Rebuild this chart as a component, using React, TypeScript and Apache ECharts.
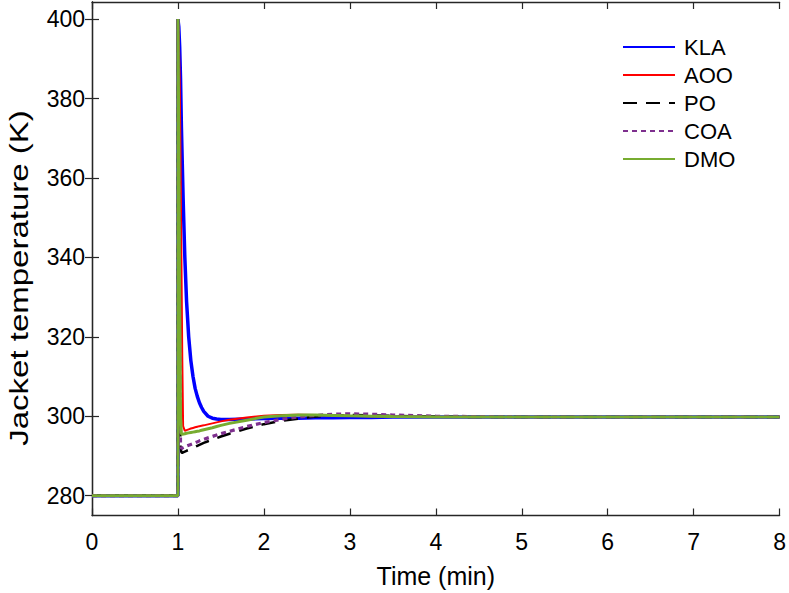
import React, { useEffect, useRef } from "react";
import * as echarts from "echarts";

// Sample times (min); the step input arrives at t = 1
const time = [
  0, 1.0, 1.0, 1.01, 1.02, 1.03, 1.04, 1.05, 1.06, 1.08, 1.1, 1.125, 1.15, 1.175, 1.2, 1.225, 1.25,
  1.275, 1.3, 1.35, 1.4, 1.45, 1.5, 1.6, 1.8, 2.0, 2.2, 2.4, 2.6, 2.8, 3.0, 3.25, 3.5, 4, 4.5, 5, 6, 7, 8,
];

// Jacket temperature (K) for each controller
const kla = [
  280, 280, 400, 398, 393, 385, 373, 364, 355, 340, 329, 320, 314, 310, 307, 305, 303.4,
  302.2, 301.2, 300.0, 299.5, 299.3, 299.2, 299.2, 299.3, 299.4, 299.5, 299.5, 299.6, 299.6, 299.7, 299.7, 299.8, 299.8, 299.8, 299.8, 299.8, 299.8, 299.8,
];
const aoo = [
  280, 280, 400, 395, 385, 365, 340, 315, 297.5, 296.3, 296.5, 296.7, 296.9, 297.05, 297.2, 297.35, 297.5,
  297.6, 297.7, 297.95, 298.2, 298.45, 298.7, 299.1, 299.7, 300.1, 300.3, 300.4, 300.3, 300.2, 300.1, 300.0, 299.9, 299.8, 299.8, 299.8, 299.8, 299.8, 299.8,
];
const po = [
  280, 280, 400, 360, 320, 292, 290.9, 290.8, 290.9, 291.1, 291.3, 291.5, 291.8, 292.05, 292.3, 292.55, 292.8,
  293.05, 293.3, 293.7, 294.1, 294.5, 294.9, 295.6, 296.9, 298.0, 298.8, 299.4, 299.9, 300.2, 300.3, 300.2, 300.1, 299.9, 299.8, 299.8, 299.8, 299.8, 299.8,
];
const coa = [
  280, 280, 400, 360, 320, 293, 291.8, 292.0, 292.1, 292.3, 292.5, 292.7, 292.9, 293.1, 293.3, 293.55, 293.8,
  294.0, 294.2, 294.55, 294.9, 295.25, 295.6, 296.2, 297.4, 298.4, 299.2, 299.8, 300.2, 300.5, 300.6, 300.5, 300.3, 300.0, 299.9, 299.8, 299.8, 299.8, 299.8,
];
const dmo = [
  280, 280, 400, 370, 330, 300, 295.6, 295.4, 295.5, 295.6, 295.7, 295.8, 295.9, 296.0, 296.1, 296.2, 296.3,
  296.45, 296.6, 296.85, 297.1, 297.4, 297.7, 298.2, 299.0, 299.8, 300.1, 300.3, 300.3, 300.2, 300.1, 300.0, 299.9, 299.8, 299.8, 299.8, 299.8, 299.8, 299.8,
];

const yTicks = [280, 300, 320, 340, 360, 380, 400];

const FONT = "'Liberation Sans', Arial, Helvetica, sans-serif";
const AXIS_COLOR = "#262626";

const pairs = (ys: number[]) => ys.map((y, i) => [time[i], y]);

export default function App() {
  const ref = useRef<HTMLDivElement>(null);

  useEffect(() => {
    document.body.style.margin = "0";
    if (!ref.current) return;
    const chart = echarts.init(ref.current, undefined, { renderer: "svg" });

    const tickStyle = { inside: true, length: 7, lineStyle: { color: AXIS_COLOR, width: 1.2 } };
    const lineAxis = { lineStyle: { color: AXIS_COLOR, width: 1.3 } };

    const line = (name: string, data: number[], color: string, width: number, type: any = "solid") => ({
      name,
      type: "line",
      data: pairs(data),
      symbol: "none",
      lineStyle: { color, width, type, cap: "butt" },
      itemStyle: { color },
    });

    chart.setOption({
      animation: false,
      backgroundColor: "#ffffff",
      textStyle: { fontFamily: FONT },
      grid: { left: 92, right: 6, top: 2, bottom: 75, containLabel: false },
      legend: {
        orient: "vertical",
        left: 622,
        top: 36,
        padding: 0,
        itemWidth: 52,
        itemHeight: 14,
        itemGap: 6,
        itemStyle: { opacity: 0 },
        textStyle: { fontSize: 22, color: "#000", fontFamily: FONT, padding: [0, 0, 0, 4] },
        data: ["KLA", "AOO", "PO", "COA", "DMO"],
      },
      graphic: [
        {
          type: "text",
          x: 19,
          y: 278,
          rotation: Math.PI / 2,
          scaleX: 1.32,
          style: {
            text: "Jacket temperature (K)",
            fontSize: 25,
            fontFamily: FONT,
            fill: "#000",
            align: "center",
            verticalAlign: "middle",
          },
        },
      ],
      xAxis: [
        {
          type: "value",
          min: 0,
          max: 8,
          interval: 1,
          position: "bottom",
          name: "Time (min)",
          nameLocation: "middle",
          nameGap: 49,
          nameTextStyle: { fontSize: 25, lineHeight: 22, color: "#000", fontFamily: FONT },
          axisLine: lineAxis,
          axisTick: tickStyle,
          axisLabel: { fontSize: 23, color: "#000", margin: 15, fontFamily: FONT },
          splitLine: { show: false },
        },
        {
          type: "value",
          min: 0,
          max: 8,
          interval: 1,
          position: "top",
          axisLine: lineAxis,
          axisTick: tickStyle,
          axisLabel: { show: false },
          splitLine: { show: false },
        },
      ],
      yAxis: [
        {
          type: "value",
          min: 275,
          max: 404.3,
          position: "left",
          axisLine: { show: true, ...lineAxis },
          axisTick: { ...tickStyle, customValues: yTicks },
          axisLabel: { fontSize: 23, color: "#000", margin: 7, fontFamily: FONT, customValues: yTicks },
          splitLine: { show: false },
        },
        {
          type: "value",
          min: 275,
          max: 404.3,
          position: "right",
          axisLine: { show: true, ...lineAxis },
          axisTick: { ...tickStyle, customValues: yTicks },
          axisLabel: { show: false },
          splitLine: { show: false },
        },
      ],
      series: [
        line("KLA", kla, "#0000FF", 3.5),
        line("AOO", aoo, "#FF0000", 2),
        line("PO", po, "#000000", 2.5, [14, 9]),
        line("COA", coa, "#7E2F8E", 3.2, [5, 4]),
        line("DMO", dmo, "#77AC30", 3),
      ],
    });

    return () => chart.dispose();
  }, []);

  return <div ref={ref} style={{ width: 789, height: 593, overflow: "hidden" }} />;
}
